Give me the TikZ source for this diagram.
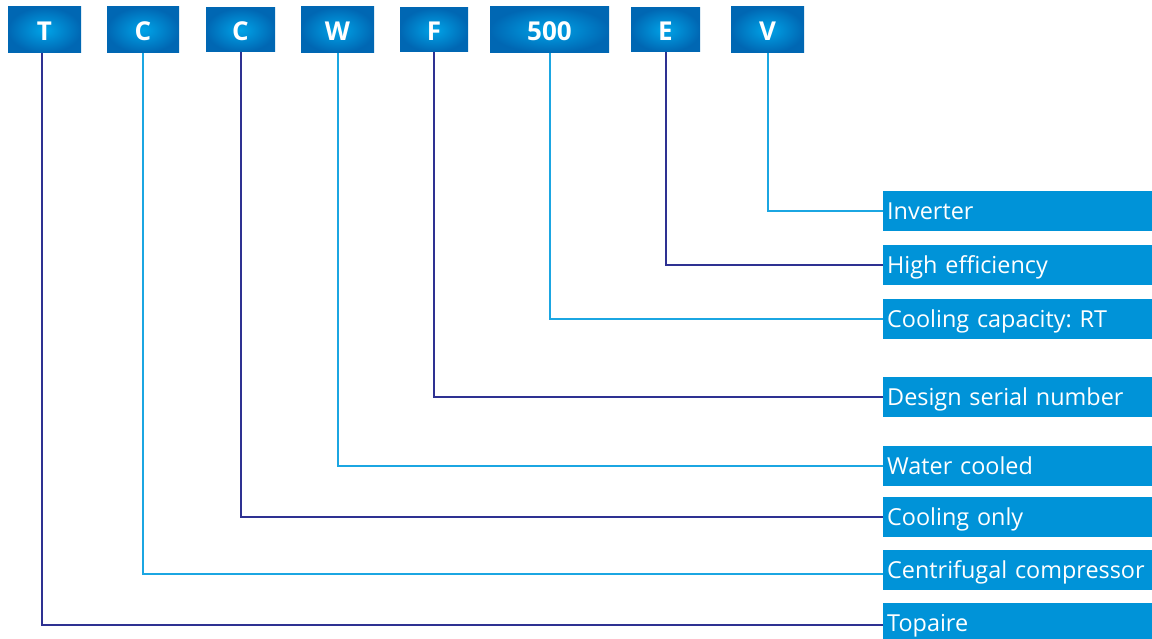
\documentclass[tikz,border=0pt]{standalone}
\usepackage{fontspec}
\setmainfont{Open Sans}
\frenchspacing
\definecolor{codeouter}{HTML}{0067B3}
\definecolor{codeinner}{HTML}{00A4E8}
\definecolor{labelfill}{HTML}{0093D8}
\definecolor{darkline}{HTML}{2E3192}
\definecolor{lightline}{HTML}{1BA6E2}
\begin{document}
\begin{tikzpicture}[x=1pt,y=-1pt,
  codebox/.style={inner sep=0pt, minimum height=46pt, shading=radial,
    inner color=codeinner, outer color=codeouter, text=white,
    text height=21pt, text depth=0pt,
    font=\fontsize{26}{26}\selectfont\bfseries},
  labelbox/.style={anchor=north west, fill=labelfill, text=white,
    minimum width=269pt, minimum height=40pt, inner ysep=0pt, inner xsep=4pt,
    text height=19pt, text depth=2pt, align=left, text width=261pt,
    font=\fontsize{23.4}{24}\selectfont},
  darkconn/.style={draw=darkline, line width=2pt},
  lightconn/.style={draw=lightline, line width=2pt}]
\useasboundingbox (0,0) rectangle (1152,639);

% code letters along the top
\node[codebox, minimum width=73pt] (cT)  at (44.5,30)  {T};
\node[codebox, minimum width=72pt] (cC1) at (143,30)   {C};
\node[codebox, minimum width=69pt, minimum height=44pt] (cC2) at (240.5,30) {C};
\node[codebox, minimum width=73pt] (cW)  at (337.5,30) {W};
\node[codebox, minimum width=68pt, minimum height=44pt] (cF) at (434,30) {F};
\node[codebox, minimum width=119pt] (c500) at (549.5,30) {500};
\node[codebox, minimum width=69pt, minimum height=44pt] (cE) at (665.5,30) {E};
\node[codebox, minimum width=73pt] (cV)  at (767.5,30) {V};

% meaning of each letter
\node[labelbox] (lInv)  at (883,191) {Inverter};
\node[labelbox] (lHigh) at (883,245) {High efficiency};
\node[labelbox] (lCap)  at (883,299) {Cooling capacity: RT};
\node[labelbox] (lSer)  at (883,377) {Design serial number};
\node[labelbox] (lWat)  at (883,446) {Water cooled};
\node[labelbox] (lOnly) at (883,497) {Cooling only};
\node[labelbox] (lCen)  at (883,550) {Centrifugal compressor};
\node[labelbox] (lTop)  at (883,603) {Topaire};

% connectors
\draw[lightconn] (cV.south)   |- (lInv.west);
\draw[darkconn]  (cE.south)   |- (lHigh.west);
\draw[lightconn] (c500.south) |- (lCap.west);
\draw[darkconn]  (cF.south)   |- (lSer.west);
\draw[lightconn] (cW.south)   |- (lWat.west);
\draw[darkconn]  (cC2.south)  |- (lOnly.west);
\draw[lightconn] (cC1.south)  |- ([yshift=-4pt]lCen.west);
\draw[darkconn]  ([xshift=-2.5pt]cT.south) |- ([yshift=-2pt]lTop.west);
\end{tikzpicture}
\end{document}
